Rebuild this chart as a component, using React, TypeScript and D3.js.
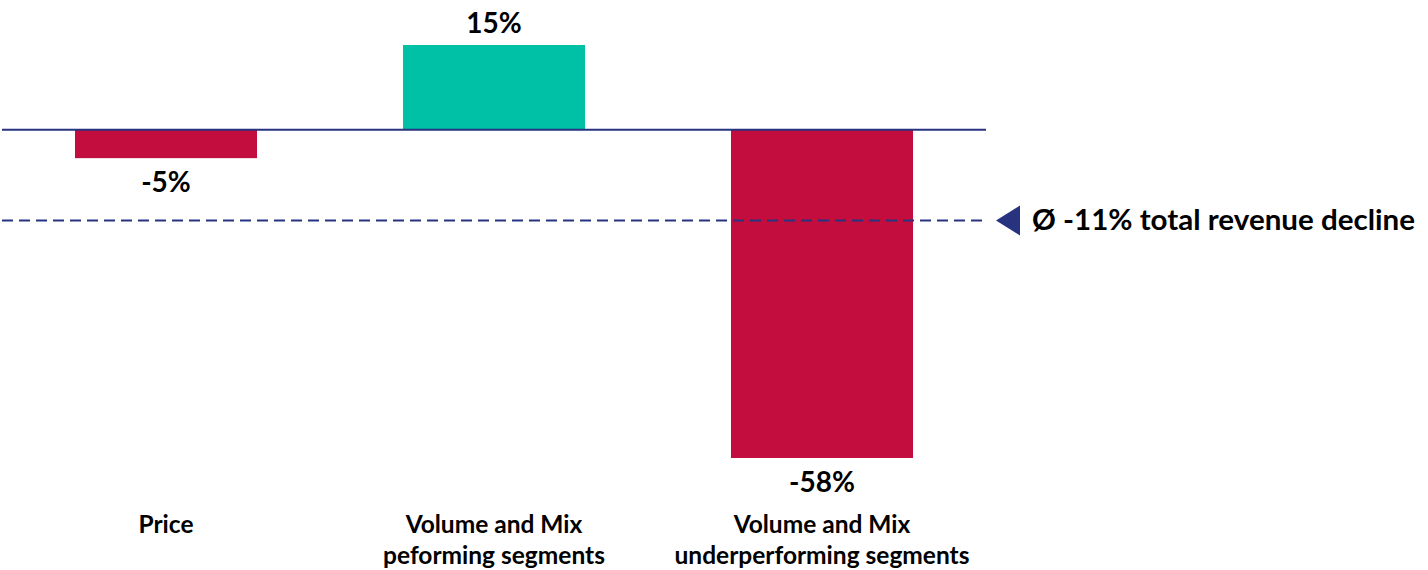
import React from "react";
import * as d3 from "d3";

const categories: string[][] = [
  ["Price"],
  ["Volume and Mix", "peforming segments"],
  ["Volume and Mix", "underperforming segments"],
];
const values: number[] = [-5, 15, -58];
const valueLabels: string[] = ["-5%", "15%", "-58%"];
const avgLineLevel = -16;
const avgLabel = "Ø -11% total revenue decline";

const W = 1428;
const H = 570;
const RED = "#c20d3e";
const TEAL = "#00c1a6";
const NAVY = "#27337f";
const FONT = "Lato, 'Open Sans', sans-serif";

export default function App() {
  const x = d3
    .scaleBand<number>()
    .domain(values.map((_, i) => i))
    .range([2, 986])
    .paddingInner(0.445)
    .paddingOuter(0.2225);
  const y = d3.scaleLinear().domain([-58, 15]).range([458, 45]);
  const y0 = y(0);
  const yAvg = y(avgLineLevel);

  return (
    <svg
      width={W}
      height={H}
      style={{ position: "absolute", left: 0, top: 0, fontFamily: FONT }}
    >
      {values.map((v, i) => (
        <rect
          key={i}
          x={x(i)}
          width={x.bandwidth()}
          y={Math.min(y(v), y0)}
          height={Math.abs(y(v) - y0)}
          fill={v >= 0 ? TEAL : RED}
        />
      ))}
      <line x1={2} x2={986} y1={y0} y2={y0} stroke={NAVY} strokeWidth={2} />
      <line
        x1={2}
        x2={986}
        y1={yAvg}
        y2={yAvg}
        stroke={NAVY}
        strokeWidth={2}
        strokeDasharray="11 6"
      />
      <path
        d={d3.line()([
          [996, yAvg],
          [1020, yAvg - 15],
          [1020, yAvg + 15],
        ]) + "Z"}
        fill={NAVY}
      />
      <text
        x={1032}
        y={yAvg + 10}
        fontSize={28}
        fontWeight={700}
        fill="#000"
        textLength={383}
        lengthAdjust="spacingAndGlyphs"
      >
        {avgLabel}
      </text>
      {values.map((v, i) => (
        <text
          key={"v" + i}
          x={x(i)! + x.bandwidth() / 2}
          y={v >= 0 ? y(v) - 12 : y(v) + 34}
          textAnchor="middle"
          fontSize={28}
          fontWeight={700}
          fill="#000"
        >
          {valueLabels[i]}
        </text>
      ))}
      {categories.map((lines, i) =>
        lines.map((t, j) => (
          <text
            key={"c" + i + j}
            x={x(i)! + x.bandwidth() / 2}
            y={533 + j * 31}
            textAnchor="middle"
            fontSize={24.5}
            fontWeight={700}
            fill="#000"
          >
            {t}
          </text>
        ))
      )}
    </svg>
  );
}
